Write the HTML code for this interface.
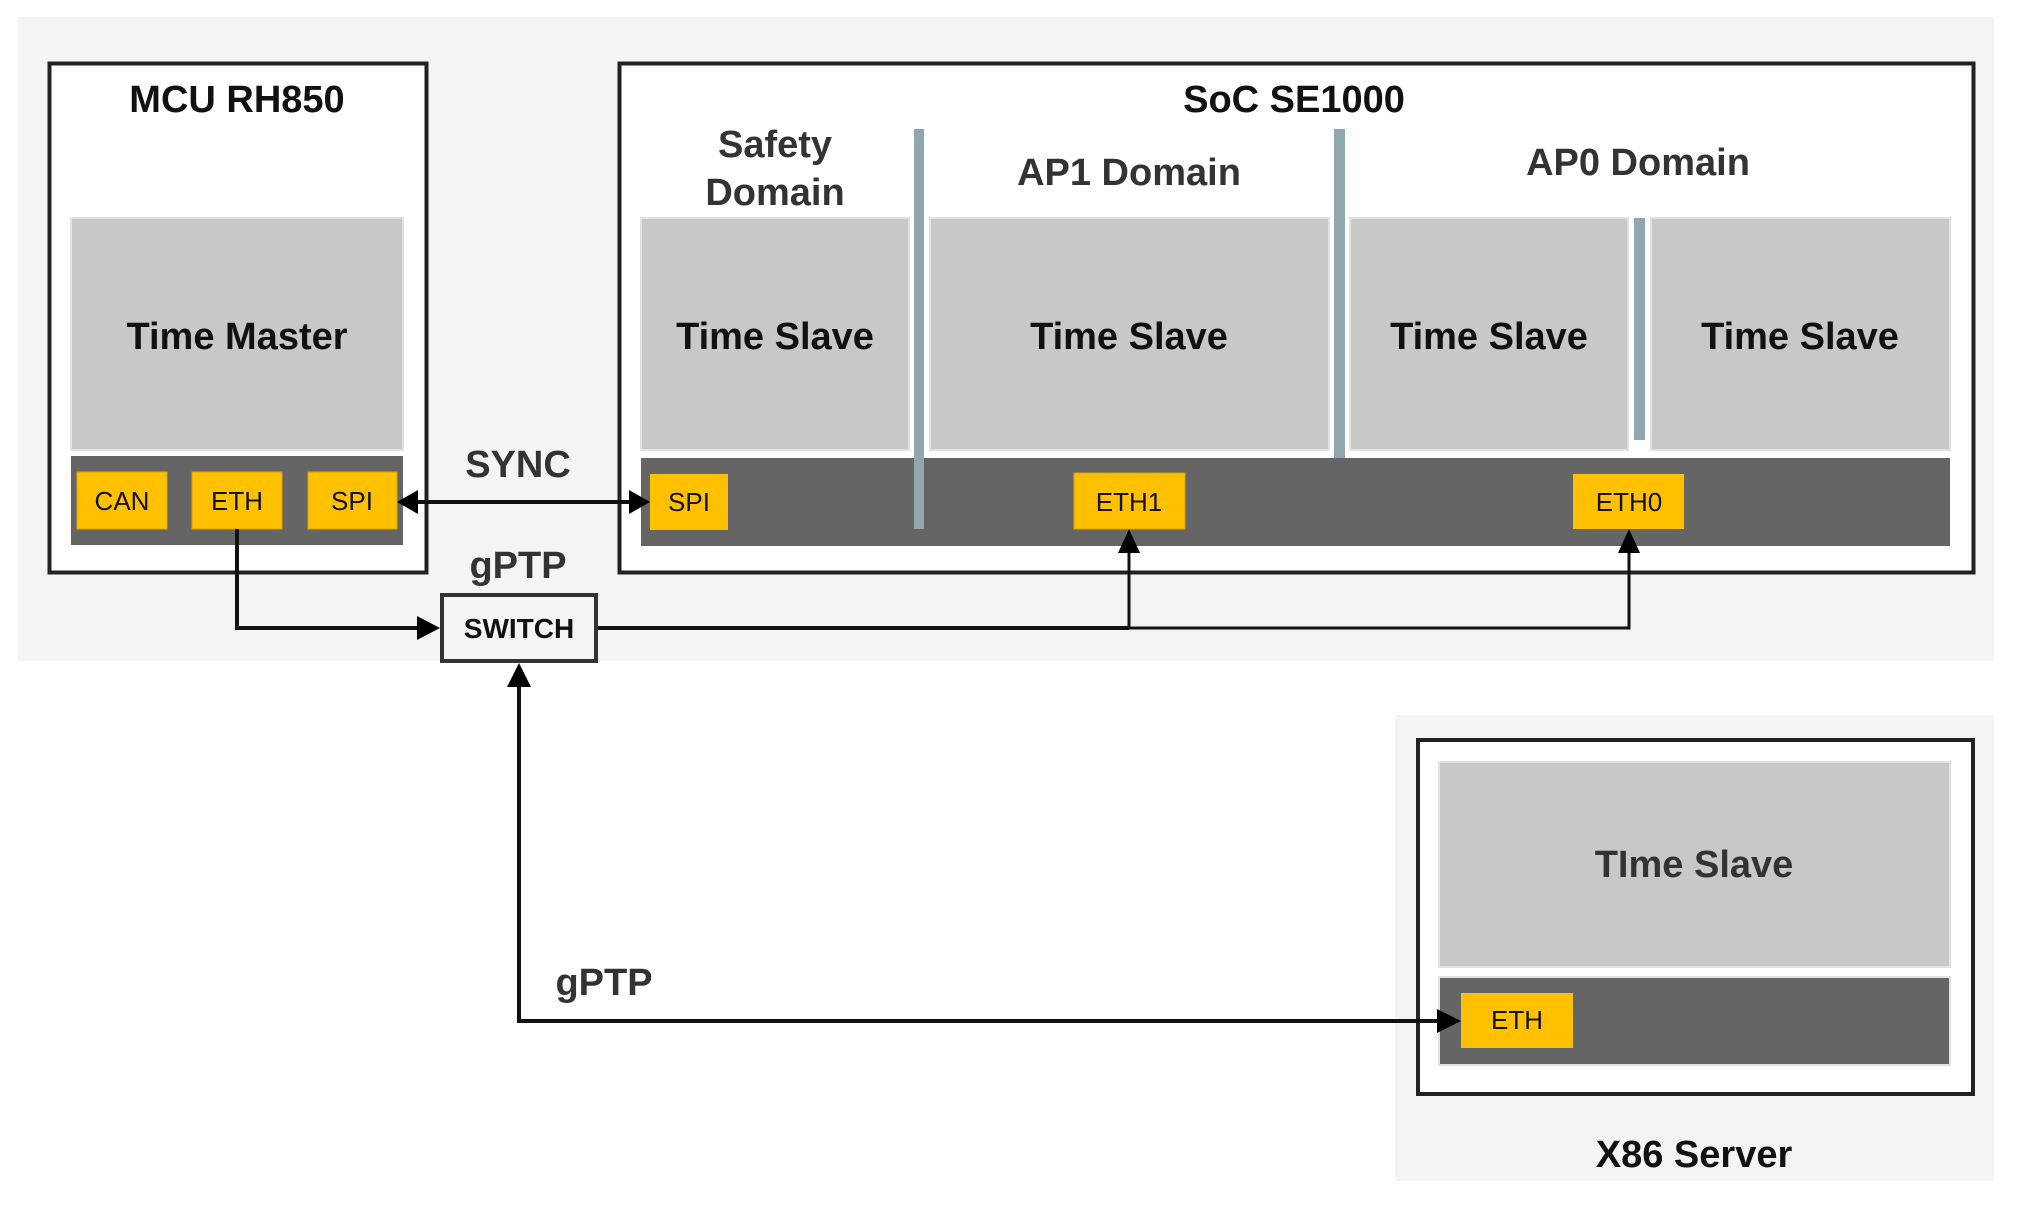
<!DOCTYPE html>
<html><head><meta charset="utf-8"><style>
html,body{margin:0;padding:0;background:#fff}
svg{display:block}
text{font-family:"Liberation Sans",Arial,sans-serif}
</style></head><body>
<svg width="2018" height="1205" viewBox="0 0 2018 1205" xmlns="http://www.w3.org/2000/svg">
<!-- backgrounds -->
<rect x="18" y="17" width="1976" height="644" fill="#f4f4f4"/>
<rect x="1395" y="715" width="599" height="466" fill="#f4f4f4"/>

<!-- MCU -->
<rect x="49.5" y="63.5" width="377" height="509" fill="#fff" stroke="#222" stroke-width="4"/>
<text x="237" y="112" font-size="38" font-weight="bold" text-anchor="middle" fill="#111">MCU RH850</text>
<rect x="71" y="218" width="332" height="232" fill="#c8c8c8" stroke="#e2e2e2" stroke-width="2"/>
<text x="237" y="349" font-size="38" font-weight="bold" text-anchor="middle" fill="#111">Time Master</text>
<rect x="71" y="456" width="332" height="89" fill="#656565"/>
<rect x="77" y="472" width="90" height="57" fill="#ffc000" stroke="#d9a800" stroke-width="1"/>
<rect x="192" y="472" width="90" height="57" fill="#ffc000" stroke="#d9a800" stroke-width="1"/>
<rect x="308" y="472" width="89" height="57" fill="#ffc000" stroke="#d9a800" stroke-width="1"/>
<text x="122" y="510" font-size="26" text-anchor="middle" fill="#111">CAN</text>
<text x="237" y="510" font-size="26" text-anchor="middle" fill="#111">ETH</text>
<text x="352" y="510" font-size="26" text-anchor="middle" fill="#111">SPI</text>

<!-- SoC -->
<rect x="619.5" y="63.5" width="1354" height="509" fill="#fff" stroke="#222" stroke-width="4"/>
<text x="1294" y="112" font-size="38" font-weight="bold" text-anchor="middle" fill="#111">SoC SE1000</text>
<text x="775" y="157" font-size="38" font-weight="bold" text-anchor="middle" fill="#333">Safety</text>
<text x="775" y="205" font-size="38" font-weight="bold" text-anchor="middle" fill="#333">Domain</text>
<text x="1129" y="185" font-size="38" font-weight="bold" text-anchor="middle" fill="#333">AP1 Domain</text>
<text x="1638" y="175" font-size="38" font-weight="bold" text-anchor="middle" fill="#333">AP0 Domain</text>

<rect x="641" y="218" width="268" height="232" fill="#c8c8c8" stroke="#e2e2e2" stroke-width="2"/>
<rect x="930" y="218" width="399" height="232" fill="#c8c8c8" stroke="#e2e2e2" stroke-width="2"/>
<rect x="1350" y="218" width="278" height="232" fill="#c8c8c8" stroke="#e2e2e2" stroke-width="2"/>
<rect x="1651" y="218" width="299" height="232" fill="#c8c8c8" stroke="#e2e2e2" stroke-width="2"/>
<text x="775" y="349" font-size="38" font-weight="bold" text-anchor="middle" fill="#111">Time Slave</text>
<text x="1129" y="349" font-size="38" font-weight="bold" text-anchor="middle" fill="#111">Time Slave</text>
<text x="1489" y="349" font-size="38" font-weight="bold" text-anchor="middle" fill="#111">Time Slave</text>
<text x="1800" y="349" font-size="38" font-weight="bold" text-anchor="middle" fill="#111">Time Slave</text>

<rect x="641" y="458" width="1309" height="88" fill="#656565"/>
<rect x="914" y="129" width="10" height="400" fill="#92a6b0"/>
<rect x="1334" y="129" width="11" height="329" fill="#92a6b0"/>
<rect x="1634" y="218" width="11" height="222" fill="#92a6b0"/>

<rect x="650" y="474" width="78" height="56" fill="#ffc000"/>
<rect x="1074" y="473" width="111" height="56" fill="#ffc000" stroke="#d9a800" stroke-width="1"/>
<rect x="1573" y="474" width="111" height="55" fill="#ffc000"/>
<text x="689" y="511" font-size="26" text-anchor="middle" fill="#111">SPI</text>
<text x="1129" y="511" font-size="26" text-anchor="middle" fill="#111">ETH1</text>
<text x="1629" y="511" font-size="26" text-anchor="middle" fill="#111">ETH0</text>

<!-- SYNC -->
<text x="518" y="477" font-size="38" font-weight="bold" text-anchor="middle" fill="#333">SYNC</text>
<line x1="415" y1="502" x2="632" y2="502" stroke="#111" stroke-width="4"/>
<polygon points="397,502 418,490 418,514" fill="#000"/>
<polygon points="650,502 629,490 629,514" fill="#000"/>
<text x="518" y="578" font-size="38" font-weight="bold" text-anchor="middle" fill="#333">gPTP</text>

<!-- SWITCH -->
<rect x="442" y="595" width="154" height="66" fill="#f4f4f4" stroke="#333" stroke-width="4"/>
<text x="519" y="638" font-size="28" font-weight="bold" text-anchor="middle" fill="#111">SWITCH</text>

<polyline points="237,529 237,628 420,628" fill="none" stroke="#111" stroke-width="4"/>
<polygon points="440,628 417,616 417,640" fill="#000"/>
<line x1="598" y1="628" x2="1129" y2="628" stroke="#111" stroke-width="4"/>
<polyline points="1129,628 1629,628 1629,550" fill="none" stroke="#111" stroke-width="3"/>
<line x1="1129" y1="628" x2="1129" y2="550" stroke="#111" stroke-width="3"/>
<polygon points="1129,529 1118,553 1140,553" fill="#000"/>
<polygon points="1629,529 1618,553 1640,553" fill="#000"/>

<!-- X86 -->
<rect x="1418" y="740" width="555" height="354" fill="#fff" stroke="#222" stroke-width="4"/>
<rect x="1439" y="762" width="511" height="205" fill="#c8c8c8" stroke="#e2e2e2" stroke-width="2"/>
<text x="1694" y="877" font-size="38" font-weight="bold" text-anchor="middle" fill="#333">TIme Slave</text>
<rect x="1439" y="977" width="511" height="88" fill="#656565" stroke="#e2e2e2" stroke-width="2"/>
<rect x="1461" y="993" width="112" height="55" fill="#ffc000"/>
<text x="1517" y="1029" font-size="26" text-anchor="middle" fill="#111">ETH</text>
<text x="1694" y="1167" font-size="38" font-weight="bold" text-anchor="middle" fill="#111">X86 Server</text>

<polyline points="519,685 519,1021 1440,1021" fill="none" stroke="#111" stroke-width="4"/>
<polygon points="519,663 507,687 531,687" fill="#000"/>
<polygon points="1461,1021 1437,1009 1437,1033" fill="#000"/>
<text x="604" y="995" font-size="38" font-weight="bold" text-anchor="middle" fill="#333">gPTP</text>
</svg>
</body></html>
